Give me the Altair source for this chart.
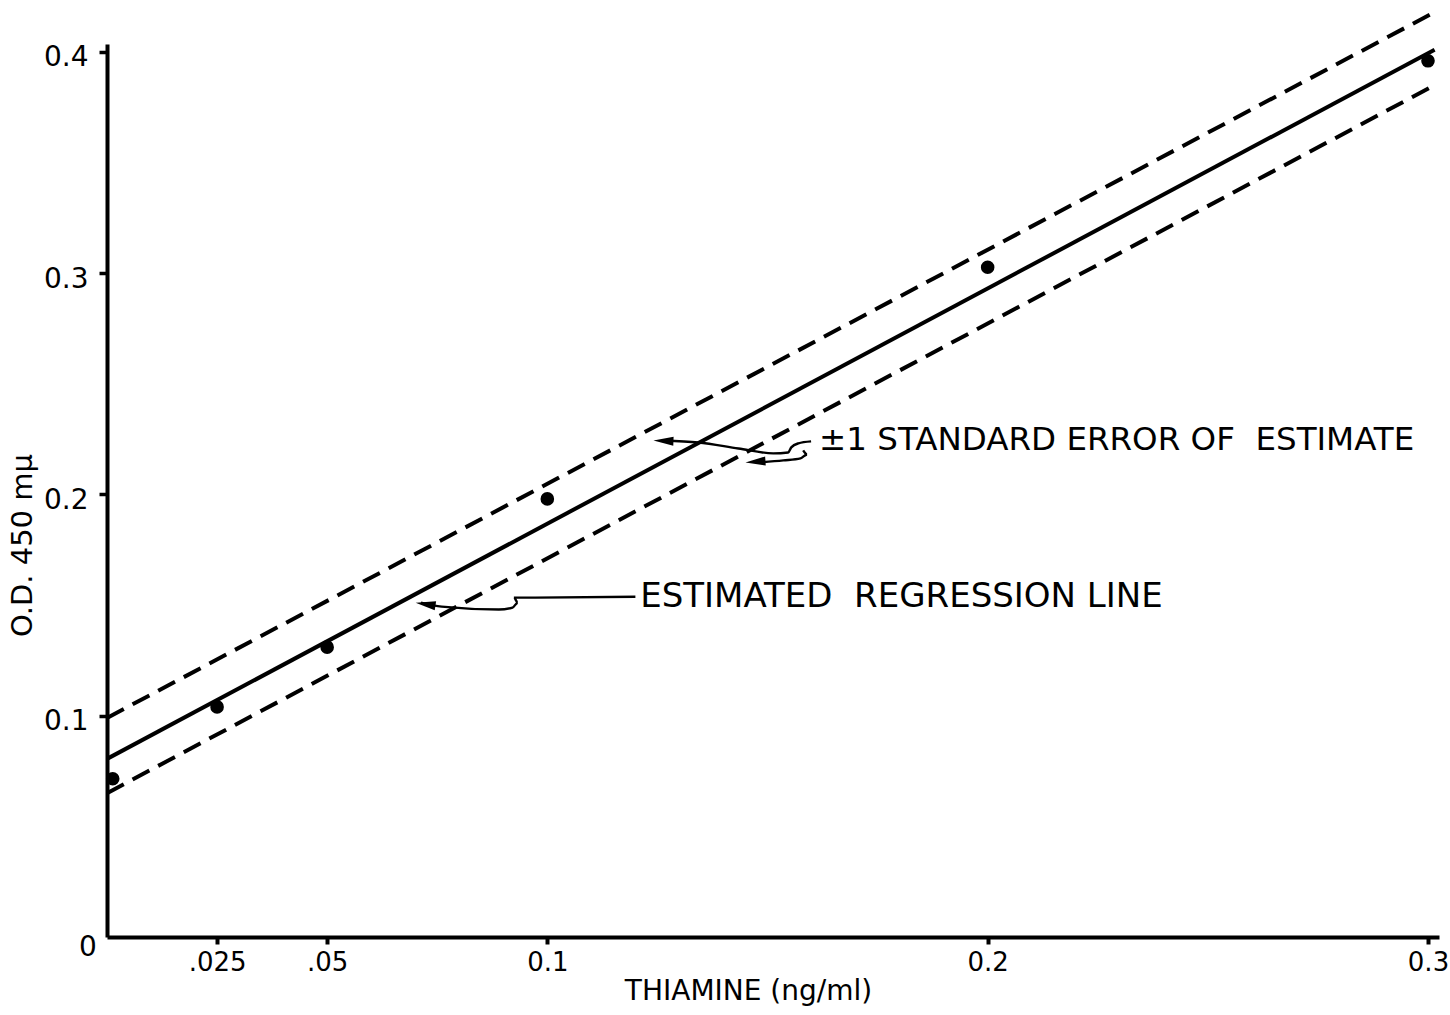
import altair as alt
import pandas as pd

# ---------------- data ----------------
thiamine = [0.0013, 0.025, 0.05, 0.1, 0.2, 0.3]          # ng/ml
od450 = [0.0715, 0.104, 0.131, 0.198, 0.3027, 0.396]     # O.D. 450 mμ

line_x = [0.0, 0.3015]
regression_y = [0.0805, 0.401]
upper_se_y = [0.099, 0.418]
lower_se_y = [0.065, 0.385]

x_tick_values = [0.025, 0.05, 0.1, 0.2, 0.3]
x_tick_labels = [".025", ".05", "0.1", "0.2", "0.3"]
y_tick_values = [0.1, 0.2, 0.3, 0.4]
y_tick_labels = ["0.1", "0.2", "0.3", "0.4"]

# annotation leader lines (data units)
arrow_reg_x = [0.1200, 0.0951, 0.0924, 0.0933, 0.0921, 0.0890, 0.0760, 0.0713]
arrow_reg_y = [0.1538, 0.1534, 0.1534, 0.1511, 0.1489, 0.1480, 0.1493, 0.1511]
arrow_up_x = [0.1599, 0.1570, 0.1554, 0.1547, 0.1513, 0.1434, 0.1343, 0.1264]
arrow_up_y = [0.2240, 0.2231, 0.2213, 0.2190, 0.2186, 0.2208, 0.2235, 0.2244]
arrow_lo_x = [0.1581, 0.1590, 0.1575, 0.1536, 0.1484]
arrow_lo_y = [0.2199, 0.2181, 0.2163, 0.2154, 0.2145]

head_x = [0.0701, 0.1241, 0.1450]
head_y = [0.1511, 0.2244, 0.2145]
head_angle = [9, 2, 356]

labels_text = ["\u00b11 STANDARD ERROR OF\u00a0 ESTIMATE", "ESTIMATED\u00a0 REGRESSION LINE"]
labels_x = [0.1617, 0.1211]
labels_y = [0.2244, 0.1538]
labels_size = [32.5, 34]

# ---------------- tables ----------------
pts = pd.DataFrame({"x": thiamine, "y": od450})
reg = pd.DataFrame({"x": line_x, "y": regression_y})
se = pd.DataFrame({
    "x": line_x + line_x,
    "y": upper_se_y + lower_se_y,
    "s": ["upper"] * 2 + ["lower"] * 2,
})
arrows = pd.DataFrame({
    "x": arrow_reg_x + arrow_up_x + arrow_lo_x,
    "y": arrow_reg_y + arrow_up_y + arrow_lo_y,
    "a": ["reg"] * len(arrow_reg_x) + ["up"] * len(arrow_up_x) + ["lo"] * len(arrow_lo_x),
    "o": list(range(len(arrow_reg_x))) + list(range(len(arrow_up_x))) + list(range(len(arrow_lo_x))),
})
heads = pd.DataFrame({"x": head_x, "y": head_y, "ang": head_angle})
labels = pd.DataFrame({"x": labels_x, "y": labels_y, "t": labels_text, "fs": labels_size})
zero = pd.DataFrame({"x": [0.0], "y": [0.0], "t": ["0"]})


def label_expr(values, texts):
    expr = "''"
    for v, t in reversed(list(zip(values, texts))):
        expr = f"datum.value == {v} ? '{t}' : {expr}"
    return expr


FONT = "DejaVu Sans"

xscale = alt.Scale(domain=[0, 0.3025], nice=False, zero=False)
yscale = alt.Scale(domain=[0, 0.4036], nice=False, zero=False)

xaxis = alt.Axis(
    values=x_tick_values, labelExpr=label_expr(x_tick_values, x_tick_labels),
    grid=False, domainColor="black", domainWidth=4, tickColor="black",
    tickWidth=4, tickSize=7, labelFont=FONT, labelFontSize=26, labelColor="black",
    labelPadding=5, labelFlush=False, labelOverlap=False,
    title="THIAMINE (ng/ml)", titleFont=FONT, titleFontSize=28,
    titleFontWeight="normal", titleColor="black", titleX=641, titleY=54,
    titleBaseline="middle", titleAlign="center",
)
yaxis = alt.Axis(
    values=y_tick_values, labelExpr=label_expr(y_tick_values, y_tick_labels),
    grid=False, domainColor="black", domainWidth=4, tickColor="black",
    tickWidth=3.5, tickSize=8, labelFont=FONT, labelFontSize=28, labelColor="black",
    labelPadding=11, labelOffset=6, labelFlush=False, labelOverlap=False,
    title="O.D. 450 m\u03bc", titleFont=FONT, titleFontSize=29,
    titleFontWeight="normal", titleColor="black", titleAngle=270,
    titleX=-85, titleY=501, titleBaseline="middle", titleAlign="center",
)

XS = lambda: alt.X("x:Q", scale=xscale)
YS = lambda: alt.Y("y:Q", scale=yscale)

base_axes = alt.Chart(pts).mark_point(opacity=0).encode(
    x=alt.X("x:Q", scale=xscale, axis=xaxis),
    y=alt.Y("y:Q", scale=yscale, axis=yaxis))

reg_line = alt.Chart(reg).mark_line(color="black", strokeWidth=4).encode(x=XS(), y=YS())

se_lines = alt.Chart(se).mark_line(
    color="black", strokeWidth=4, strokeDash=[19, 10], strokeCap="butt"
).encode(x=XS(), y=YS(), detail="s:N")

dots = alt.Chart(pts).mark_circle(color="black", size=185, opacity=1).encode(x=XS(), y=YS())

arrow_lines = alt.Chart(arrows).mark_line(
    color="black", strokeWidth=2.4, interpolate="monotone"
).encode(x=XS(), y=YS(), detail="a:N", order="o:Q")

arrow_heads = alt.Chart(heads).mark_point(
    shape="M 0 0 L 2 -0.45 L 2 0.45 Z", filled=True, color="black",
    size=400, opacity=1, strokeWidth=0
).encode(x=XS(), y=YS(), angle=alt.Angle("ang:Q", scale=None))

label_marks = alt.Chart(labels).mark_text(
    font=FONT, color="black", align="left", baseline="middle"
).encode(x=XS(), y=YS(), text="t:N", size=alt.Size("fs:Q", scale=None))

zero_mark = alt.Chart(zero).mark_text(
    font=FONT, fontSize=28, color="black", align="center", baseline="middle",
    dx=-19, dy=11
).encode(x=XS(), y=YS(), text="t:N")

chart = alt.layer(
    base_axes, se_lines, reg_line, dots, arrow_lines, arrow_heads, label_marks, zero_mark
).properties(
    width=1332, height=893,
    autosize=alt.AutoSizeParams(type="none"),
    padding={"left": 107, "top": 44, "right": 11, "bottom": 78},
    background="white",
).configure_view(stroke=None)

chart.save("out.html", embed_options={"renderer": "svg", "actions": False})
